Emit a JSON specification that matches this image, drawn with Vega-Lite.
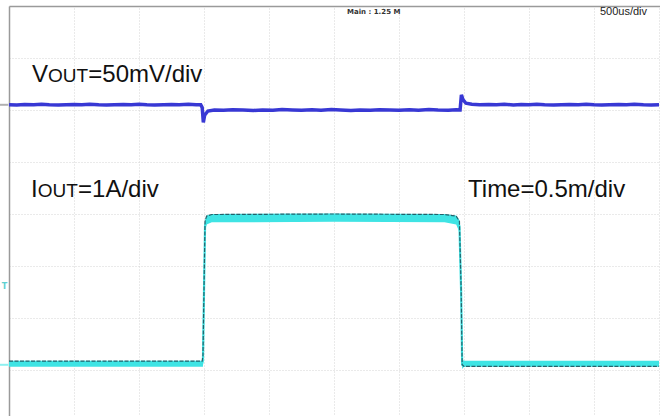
{
  "$schema": "https://vega.github.io/schema/vega-lite/v6.json",
  "autosize": {"type": "none"},
  "width": 651,
  "height": 411,
  "padding": {"left": 9, "top": 6, "right": 0, "bottom": 0},
  "background": "white",
  "config": {"view": {"stroke": null}},
  "datasets": {
    "vout": [
      {"t": 0, "v": 2.10}, {"t": 0.06, "v": 2.095}, {"t": 0.12, "v": 2.105}, {"t": 0.19, "v": 2.10}, {"t": 0.25, "v": 2.11},
      {"t": 0.31, "v": 2.10}, {"t": 0.38, "v": 2.095}, {"t": 0.44, "v": 2.10}, {"t": 0.5, "v": 2.105}, {"t": 0.56, "v": 2.10},
      {"t": 0.62, "v": 2.11}, {"t": 0.69, "v": 2.10}, {"t": 0.75, "v": 2.095}, {"t": 0.81, "v": 2.10}, {"t": 0.88, "v": 2.105},
      {"t": 0.94, "v": 2.10}, {"t": 1.0, "v": 2.11}, {"t": 1.06, "v": 2.10}, {"t": 1.12, "v": 2.095}, {"t": 1.19, "v": 2.10},
      {"t": 1.25, "v": 2.105}, {"t": 1.31, "v": 2.10}, {"t": 1.38, "v": 2.11}, {"t": 1.44, "v": 2.10},
      {"t": 1.475, "v": 2.10}, {"t": 1.486, "v": 2.05}, {"t": 1.495, "v": 1.76}, {"t": 1.505, "v": 1.9},
      {"t": 1.53, "v": 1.98}, {"t": 1.58, "v": 2.0}, {"t": 1.65, "v": 1.995}, {"t": 1.72, "v": 2.005}, {"t": 1.8, "v": 2.0},
      {"t": 1.88, "v": 1.99}, {"t": 1.95, "v": 2.0}, {"t": 2.03, "v": 1.995}, {"t": 2.1, "v": 2.01}, {"t": 2.18, "v": 2.0},
      {"t": 2.25, "v": 1.995}, {"t": 2.33, "v": 2.005}, {"t": 2.4, "v": 1.995}, {"t": 2.48, "v": 2.01}, {"t": 2.55, "v": 2.0},
      {"t": 2.63, "v": 1.99}, {"t": 2.7, "v": 2.0}, {"t": 2.78, "v": 1.995}, {"t": 2.85, "v": 2.005}, {"t": 2.93, "v": 2.0},
      {"t": 3.0, "v": 1.995}, {"t": 3.08, "v": 2.005}, {"t": 3.15, "v": 1.995}, {"t": 3.23, "v": 2.01}, {"t": 3.3, "v": 2.0},
      {"t": 3.38, "v": 1.995}, {"t": 3.44, "v": 2.005}, {"t": 3.47, "v": 2.0}, {"t": 3.48, "v": 2.29},
      {"t": 3.492, "v": 2.2}, {"t": 3.515, "v": 2.13}, {"t": 3.56, "v": 2.11}, {"t": 3.62, "v": 2.10}, {"t": 3.69, "v": 2.105},
      {"t": 3.75, "v": 2.10}, {"t": 3.81, "v": 2.11}, {"t": 3.88, "v": 2.095}, {"t": 3.94, "v": 2.105}, {"t": 4.0, "v": 2.10},
      {"t": 4.06, "v": 2.11}, {"t": 4.12, "v": 2.10}, {"t": 4.19, "v": 2.095}, {"t": 4.25, "v": 2.10}, {"t": 4.31, "v": 2.105},
      {"t": 4.38, "v": 2.10}, {"t": 4.44, "v": 2.11}, {"t": 4.5, "v": 2.10}, {"t": 4.56, "v": 2.095}, {"t": 4.62, "v": 2.10},
      {"t": 4.69, "v": 2.105}, {"t": 4.75, "v": 2.10}, {"t": 4.81, "v": 2.11}, {"t": 4.88, "v": 2.10}, {"t": 4.94, "v": 2.095},
      {"t": 5.0, "v": 2.10}
    ],
    "iband": [
      {"t": 0, "hi": -2.82, "lo": -2.94, "mid": -2.88},
      {"t": 1.486, "hi": -2.82, "lo": -2.94, "mid": -2.88},
      {"t": 1.492, "hi": -2.7, "lo": -2.94, "mid": -2.82},
      {"t": 1.5, "hi": -1.4, "lo": -1.6, "mid": -1.5},
      {"t": 1.508, "hi": -0.12, "lo": -0.35, "mid": -0.23},
      {"t": 1.52, "hi": -0.03, "lo": -0.2, "mid": -0.11},
      {"t": 1.56, "hi": 0.0, "lo": -0.16, "mid": -0.08},
      {"t": 2.5, "hi": 0.01, "lo": -0.15, "mid": -0.07},
      {"t": 3.35, "hi": 0.0, "lo": -0.16, "mid": -0.08},
      {"t": 3.44, "hi": -0.03, "lo": -0.2, "mid": -0.11},
      {"t": 3.465, "hi": -0.12, "lo": -0.35, "mid": -0.23},
      {"t": 3.478, "hi": -1.4, "lo": -1.6, "mid": -1.5},
      {"t": 3.486, "hi": -2.8, "lo": -2.98, "mid": -2.89},
      {"t": 3.5, "hi": -2.82, "lo": -2.94, "mid": -2.88},
      {"t": 5.0, "hi": -2.82, "lo": -2.94, "mid": -2.88}
    ],
    "iedge": [
      {"t": 0, "v": -2.83}, {"t": 1.486, "v": -2.83}, {"t": 1.492, "v": -2.72}, {"t": 1.5, "v": -1.45},
      {"t": 1.508, "v": -0.14}, {"t": 1.52, "v": -0.04}, {"t": 1.56, "v": -0.01}, {"t": 2.5, "v": 0.0},
      {"t": 3.35, "v": -0.01}, {"t": 3.44, "v": -0.04}, {"t": 3.465, "v": -0.14}, {"t": 3.478, "v": -1.45},
      {"t": 3.486, "v": -2.9}, {"t": 3.5, "v": -2.93}, {"t": 5.0, "v": -2.93}
    ],
    "labels": [
      {"t": 0.177, "v": 2.538, "text": "V", "g": "big"},
      {"t": 0.30, "v": 2.538, "text": "OUT", "g": "small"},
      {"t": 0.61, "v": 2.538, "text": "=50mV/div", "g": "big"},
      {"t": 0.169, "v": 0.327, "text": "I", "g": "big"},
      {"t": 0.221, "v": 0.327, "text": "OUT", "g": "small"},
      {"t": 0.531, "v": 0.327, "text": "=1A/div", "g": "big"},
      {"t": 3.531, "v": 0.327, "text": "Time=0.5m/div", "g": "big"},
      {"t": 2.6, "v": 3.85, "text": "Main : 1.25 M", "g": "tiny"},
      {"t": 4.546, "v": 3.83, "text": "500us/div", "g": "scale"},
      {"t": -0.055, "v": -1.40, "text": "T", "g": "trig"}
    ],
    "markers": [
      {"t": -0.07, "t2": -0.005, "v": 2.10, "ch": "vout"},
      {"t": -0.07, "t2": -0.005, "v": -2.9, "ch": "iout"}
    ]
  },
  "layer": [
    {
      "data": {"values": [{"t": 0, "v": 0}]},
      "mark": {"type": "point", "opacity": 0},
      "encoding": {
        "x": {"field": "t", "type": "quantitative",
          "scale": {"domain": [0, 5.0077], "nice": false, "zero": false},
          "axis": {"orient": "top", "values": [0, 0.5, 1, 1.5, 2, 2.5, 3, 3.5, 4, 4.5, 5],
            "labels": false, "ticks": false, "title": null,
            "domain": true, "domainColor": "#9a9a9a", "domainWidth": 1.5,
            "grid": true, "gridColor": "#d4d4d4", "gridDash": [1, 2], "gridWidth": 1}},
        "y": {"field": "v", "type": "quantitative",
          "scale": {"domain": [-3.904, 4], "nice": false, "zero": false},
          "axis": {"orient": "left", "values": [-3, -2, -1, 0, 1, 2, 3, 4],
            "labels": false, "ticks": false, "title": null,
            "domain": true, "domainColor": "#9a9a9a", "domainWidth": 1.5,
            "grid": true, "gridColor": "#d4d4d4", "gridDash": [1, 2], "gridWidth": 1}}
      }
    },
    {
      "data": {"name": "vout"},
      "mark": {"type": "line", "color": "#3838d4", "strokeWidth": 3.5, "interpolate": "linear"},
      "encoding": {
        "x": {"field": "t", "type": "quantitative"},
        "y": {"field": "v", "type": "quantitative"}
      }
    },
    {
      "data": {"name": "iband"},
      "mark": {"type": "area", "color": "#3fe4e4", "opacity": 1},
      "encoding": {
        "x": {"field": "t", "type": "quantitative"},
        "y": {"field": "hi", "type": "quantitative"},
        "y2": {"field": "lo"}
      }
    },
    {
      "data": {"name": "iband"},
      "mark": {"type": "line", "color": "#3fe4e4", "strokeWidth": 2.2},
      "encoding": {
        "x": {"field": "t", "type": "quantitative"},
        "y": {"field": "mid", "type": "quantitative"}
      }
    },
    {
      "data": {"name": "iedge"},
      "mark": {"type": "line", "color": "#1d4a56", "strokeWidth": 1.2, "strokeDash": [4, 1.5], "opacity": 0.85},
      "encoding": {
        "x": {"field": "t", "type": "quantitative"},
        "y": {"field": "v", "type": "quantitative"}
      }
    },
    {
      "data": {"name": "markers"},
      "mark": {"type": "rule", "strokeWidth": 2, "clip": false},
      "encoding": {
        "x": {"field": "t", "type": "quantitative"},
        "x2": {"field": "t2"},
        "y": {"field": "v", "type": "quantitative"},
        "color": {"field": "ch", "type": "nominal", "scale": {"domain": ["vout", "iout"], "range": ["#b0b0b0", "#8ef0f0"]}, "legend": null}
      }
    },
    {
      "data": {"name": "labels"},
      "transform": [{"filter": "datum.g === 'big'"}],
      "mark": {"type": "text", "align": "left", "baseline": "alphabetic", "font": "Liberation Sans", "fontSize": 24, "color": "#111111"},
      "encoding": {
        "x": {"field": "t", "type": "quantitative"},
        "y": {"field": "v", "type": "quantitative"},
        "text": {"field": "text"}
      }
    },
    {
      "data": {"name": "labels"},
      "transform": [{"filter": "datum.g === 'small'"}],
      "mark": {"type": "text", "align": "left", "baseline": "alphabetic", "font": "Liberation Sans", "fontSize": 19, "color": "#111111"},
      "encoding": {
        "x": {"field": "t", "type": "quantitative"},
        "y": {"field": "v", "type": "quantitative"},
        "text": {"field": "text"}
      }
    },
    {
      "data": {"name": "labels"},
      "transform": [{"filter": "datum.g === 'tiny'"}],
      "mark": {"type": "text", "align": "left", "baseline": "alphabetic", "font": "DejaVu Sans", "fontSize": 7, "fontWeight": "bold", "color": "#333333"},
      "encoding": {
        "x": {"field": "t", "type": "quantitative"},
        "y": {"field": "v", "type": "quantitative"},
        "text": {"field": "text"}
      }
    },
    {
      "data": {"name": "labels"},
      "transform": [{"filter": "datum.g === 'scale'"}],
      "mark": {"type": "text", "align": "left", "baseline": "alphabetic", "font": "Liberation Sans", "fontSize": 11, "color": "#222222"},
      "encoding": {
        "x": {"field": "t", "type": "quantitative"},
        "y": {"field": "v", "type": "quantitative"},
        "text": {"field": "text"}
      }
    },
    {
      "data": {"name": "labels"},
      "transform": [{"filter": "datum.g === 'trig'"}],
      "mark": {"type": "text", "align": "left", "baseline": "middle", "font": "DejaVu Sans", "fontSize": 8, "fontWeight": "bold", "color": "#5fd0d0", "clip": false},
      "encoding": {
        "x": {"field": "t", "type": "quantitative"},
        "y": {"field": "v", "type": "quantitative"},
        "text": {"field": "text"}
      }
    }
  ]
}
